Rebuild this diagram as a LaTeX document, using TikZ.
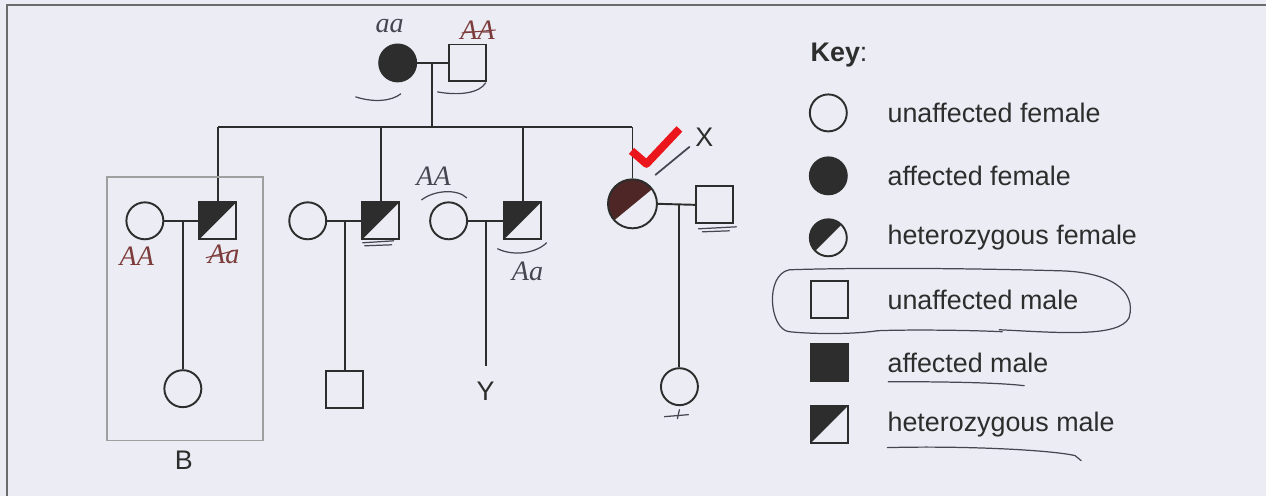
\documentclass[tikz,border=0pt]{standalone}
\usepackage{fontspec}
\setmainfont{Liberation Sans}
\newfontfamily\handfont{Liberation Serif}
\definecolor{paper}{RGB}{236,237,244}
\definecolor{ink}{RGB}{45,45,45}
\definecolor{pencil}{RGB}{70,70,82}
\definecolor{redink}{RGB}{125,60,60}
\definecolor{tickred}{RGB}{235,22,28}
\definecolor{scribble}{RGB}{78,38,38}
\begin{document}
\begin{tikzpicture}[x=0.02cm,y=-0.02cm]
	\tikzstyle{female}=[circle,draw=ink,line width=1.1pt,fill=paper,minimum size=0.74cm,inner sep=0pt]
	\tikzstyle{male}=[rectangle,draw=ink,line width=1.1pt,fill=paper,minimum size=0.74cm,inner sep=0pt]
	\tikzstyle{affected}=[fill=ink]
	\tikzstyle{hetero}=[path picture={\fill[ink] (path picture bounding box.south west) -- (path picture bounding box.north west) -- (path picture bounding box.north east) -- cycle;}]
	\tikzstyle{scribbled}=[path picture={\fill[scribble] ([xshift=-2pt]path picture bounding box.south west) -- (path picture bounding box.north west) -- ([xshift=4pt]path picture bounding box.north east) -- cycle;}]
	\tikzstyle{link}=[draw=ink,line width=1.1pt]
	\tikzstyle{printed}=[font=\fontsize{15.3}{18}\selectfont,text=ink,inner sep=0pt]
	\tikzstyle{handtext}=[font=\handfont\itshape\fontsize{16}{16}\selectfont,text=pencil,inner sep=0pt]
	\tikzstyle{penline}=[pencil,line width=0.7pt,line cap=round]

	\fill[paper] (0,0) rectangle (1267,496);
	\draw[ink!70,line width=1.2pt] (7,496) -- (7,5) -- (1267,5);

	% generation I
	\node[female,affected] (gma) at (398,63) {};
	\node[male] (gpa) at (468,63) {};
	\draw[link] (gma) -- (gpa);
	\coordinate (top) at (432,63);
	\coordinate (sib) at (432,127);
	\coordinate (sibL) at (218,127);
	\coordinate (sib2) at (381,127);
	\coordinate (sib3) at (523,127);
	\coordinate (sibR) at (633,127);
	\draw[link] (top) -- (sib);
	\draw[link] (sibL) -- (sibR);

	% generation II
	\node[female] (w1) at (145,221) {};
	\node[male,hetero] (s1) at (218,221) {};
	\node[female] (w2) at (308,221) {};
	\node[male,hetero] (s2) at (381,221) {};
	\node[female] (w3) at (449,221) {};
	\node[male,hetero] (s3) at (523,221) {};
	\node[female,scribbled,minimum size=0.98cm] (dx) at (633,204) {};
	\node[male] (hx) at (715,205) {};

	\draw[link] (sibL) -- (s1);
	\draw[link] (sib2) -- (s2);
	\draw[link] (sib3) -- (s3);
	\draw[link] (sibR) -- (dx);

	\draw[link] (w1) -- (s1);
	\draw[link] (w2) -- (s2);
	\draw[link] (w3) -- (s3);
	\draw[link] (dx.east) -- (hx.west);

	% generation III
	\coordinate (c1) at (183,221);
	\coordinate (c2) at (345,221);
	\coordinate (c3) at (486,221);
	\coordinate (cx) at (680,205);
	\node[female] (g1) at (183,389) {};
	\node[male] (g2) at (345,390) {};
	\coordinate (yend) at (486,366);
	\node[female] (gx) at (680,387) {};
	\draw[link] (c1) -- (g1);
	\draw[link] (c2) -- (g2);
	\draw[link] (c3) -- (yend);
	\draw[link] (cx) -- (gx);

	\node[printed] (lblY) at (486,392) {Y};
	\draw[gray!75,line width=0.9pt] (107,177) rectangle (263,441);
	\node[printed] (lblB) at (184,461) {B};

	% key
	\node[printed,anchor=west] (key) at (811,55) {\textbf{Key}:};
	\node[female] (k1) at (829,113) {};
	\node[female,affected] (k2) at (829,176) {};
	\node[female,hetero] (k3) at (829,238) {};
	\node[male] (k4) at (830,300) {};
	\node[male,affected] (k5) at (830,363) {};
	\node[male,hetero] (k6) at (830,425) {};
	\node[printed,anchor=west] (t1) at (888,113) {unaffected female};
	\node[printed,anchor=west] (t2) at (888,176) {affected female};
	\node[printed,anchor=west] (t3) at (888,238) {heterozygous female};
	\node[printed,anchor=west] (t4) at (888,300) {unaffected male};
	\node[printed,anchor=west] (t5) at (888,363) {affected male};
	\node[printed,anchor=west] (t6) at (888,425) {heterozygous male};

	% marks in pen
	\node[handtext] (hgma) at (390,26) {aa};
	\node[handtext,text=redink] (hgpa) at (478,30) {AA};
	\draw[redink,line width=0.6pt] (462,33) -- (496,30);
	\draw[penline] (356,97) .. controls (375,103) and (392,101) .. (401,94);
	\draw[penline] (438,92) .. controls (460,96) and (480,93) .. (486,83);
	\node[handtext,text=redink] (hw1) at (137,256) {AA};
	\node[handtext,text=redink] (hs1) at (224,255) {Aa};
	\draw[redink,line width=0.6pt] (206,258) -- (238,250);
	\draw[penline] (363,243) -- (394,241);
	\draw[penline] (365,246) -- (392,245);
	\node[handtext] (hw3) at (434,176) {AA};
	\draw[penline] (422,200) .. controls (435,190) and (458,189) .. (467,198);
	\draw[penline] (498,249) .. controls (515,257) and (537,253) .. (547,243);
	\node[handtext] (hs3) at (528,272) {Aa};
	\draw[penline] (699,229) -- (737,227);
	\draw[penline] (703,232) -- (730,231);
	\draw[penline] (665,417) -- (689,415);
	\draw[penline] (680,410) -- (678,419);

	\draw[tickred,line width=4.5pt,line join=round] (632,151) -- (647,164) -- (680,129);
	\coordinate (xtip) at (656,175);
	\node[printed] (lblX) at (705,137) {X};
	\draw[penline,line width=1pt] (xtip) -- (690,147);

	\draw[penline] (1003,332) .. controls (960,330) and (900,330) .. (878,331);
	\draw[penline] (1000,330) .. controls (1060,333) and (1120,338) .. (1130,318) .. controls (1138,290) and (1110,272) .. (1060,271) .. controls (950,268) and (850,268) .. (790,270) .. controls (765,275) and (770,330) .. (790,332) .. controls (820,335) and (860,334) .. (878,331);
	\draw[penline] (889,382) .. controls (950,382) and (1000,383) .. (1025,386);
	\draw[penline] (888,448) .. controls (960,446) and (1050,450) .. (1076,456) -- (1082,461);
\end{tikzpicture}
\end{document}
